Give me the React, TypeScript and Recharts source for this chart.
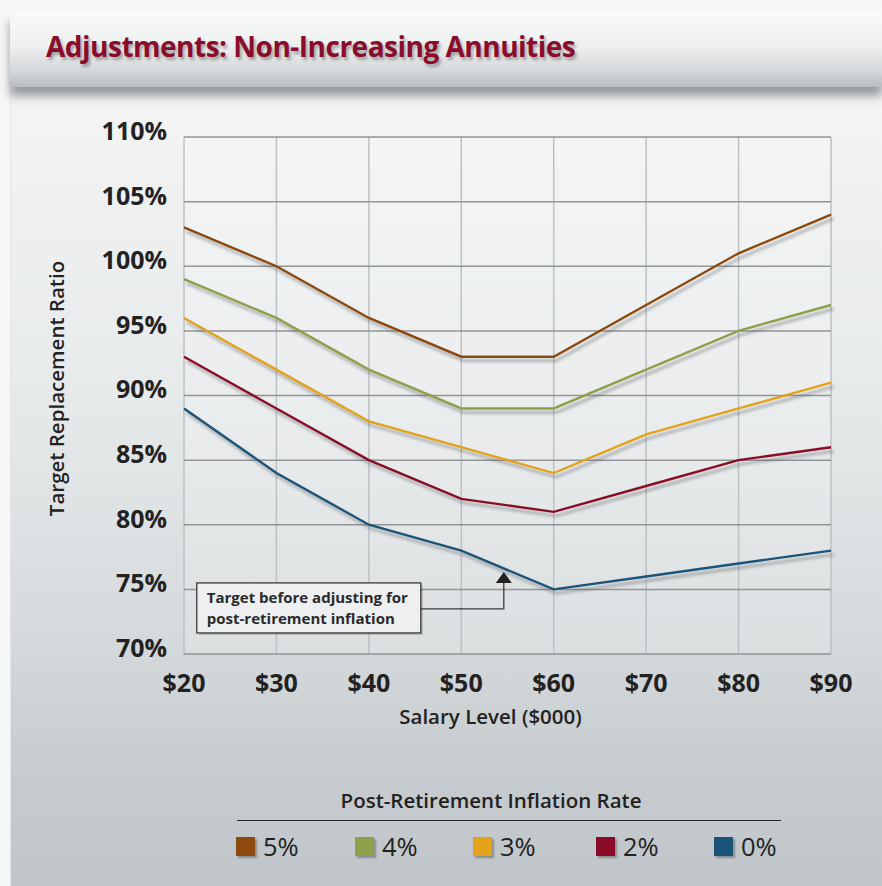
import React from 'react';
import { LineChart, Line, XAxis, YAxis, CartesianGrid, ReferenceDot, Label } from 'recharts';

// Salary levels ($000)
const salaries = [20, 30, 40, 50, 60, 70, 80, 90];

// Target replacement ratio (%) by post-retirement inflation rate
const rate5 = [103, 100, 96, 93, 93, 97, 101, 104];
const rate4 = [99, 96, 92, 89, 89, 92, 95, 97];
const rate3 = [96, 92, 88, 86, 84, 87, 89, 91];
const rate2 = [93, 89, 85, 82, 81, 83, 85, 86];
const rate0 = [89, 84, 80, 78, 75, 76, 77, 78];

const yTicks = [70, 75, 80, 85, 90, 95, 100, 105, 110];

const seriesKeys = ['r5', 'r4', 'r3', 'r2', 'r0'];
const seriesLabels = ['5%', '4%', '3%', '2%', '0%'];
const seriesColors = ['#8c4a0e', '#8fa04c', '#e2a21a', '#8a0b27', '#1b5479'];
const seriesValues = [rate5, rate4, rate3, rate2, rate0];

// Annotation arrow target (salary, ratio)
const noteX = 54.6;
const noteY = 76.35;
const noteLines = ['Target before adjusting for', 'post-retirement inflation'];

const data = salaries.map((s, i) => {
  const row: Record<string, number> = { salary: s };
  seriesKeys.forEach((k, j) => {
    row[k] = seriesValues[j][i];
  });
  return row;
});

const FONT = '"Open Sans", "Noto Sans", sans-serif';

const NoteShape = (props: any) => {
  const { cx, cy } = props;
  const boxRight = cx - 83;
  const boxLeft = cx - 307;
  return (
    <g>
      <rect x={boxLeft + 2} y={cy + 13} width={224} height={50} fill="rgba(0,0,0,0.18)" />
      <rect x={boxLeft} y={cy + 11} width={224} height={50} fill="#edeff0" stroke="#3a3a3a" strokeWidth={1.3} />
      <polyline
        points={`${boxRight},${cy + 37} ${cx},${cy + 37} ${cx},${cy + 10}`}
        fill="none"
        stroke="#3a3a3a"
        strokeWidth={1.3}
      />
      <polygon points={`${cx},${cy} ${cx - 8},${cy + 11} ${cx + 8},${cy + 11}`} fill="#222" />
      <text x={boxLeft + 10} y={cy + 31} fontFamily={FONT} fontWeight={700} fontSize={15} fill="#2a2a2a">
        {noteLines[0]}
      </text>
      <text x={boxLeft + 10} y={cy + 52} fontFamily={FONT} fontWeight={700} fontSize={15} fill="#2a2a2a">
        {noteLines[1]}
      </text>
    </g>
  );
};

export default function App() {
  return (
    <div
      style={{
        position: 'absolute',
        left: 0,
        top: 0,
        width: 882,
        height: 886,
        overflow: 'hidden',
        background: '#f6f7f7',
        fontFamily: FONT,
      }}
    >
      <svg width={0} height={0} style={{ position: 'absolute' }}>
        <defs>
          <filter id="lineShadow" x="-10%" y="-20%" width="130%" height="160%">
            <feDropShadow dx={2.5} dy={4} stdDeviation={1.8} floodColor="#4a4f52" floodOpacity={0.45} />
          </filter>
        </defs>
      </svg>

      {/* panel */}
      <div
        style={{
          position: 'absolute',
          left: 10,
          top: 30,
          width: 872,
          height: 856,
          borderLeft: '1px solid #e2e5e6',
          background: 'linear-gradient(to bottom, #f5f6f6 0%, #eff1f1 20%, #e6e9ea 45%, #d6dadc 70%, #c5cbce 88%, #bfc5c8 100%)',
        }}
      />

      {/* title banner */}
      <div
        style={{
          position: 'absolute',
          left: 10,
          top: 12,
          width: 872,
          height: 75,
          background: 'linear-gradient(to bottom, #f9fafa 0%, #eef0f0 45%, #d3d7d9 80%, #b7bcbf 100%)',
          boxShadow: '0 9px 9px rgba(40,45,48,0.45)',
        }}
      >
        <div
          style={{
            position: 'absolute',
            left: 36,
            top: 15,
            fontFamily: FONT,
            fontWeight: 700,
            fontSize: 28,
            letterSpacing: -0.5,
            color: '#8a0c2c',
            textShadow: '2px 3px 3px rgba(0,0,0,0.3)',
            whiteSpace: 'nowrap',
          }}
        >
          Adjustments: Non-Increasing Annuities
        </div>
      </div>

      <div style={{ position: 'absolute', left: 0, top: 0 }}>
        <LineChart
          width={882}
          height={886}
          data={data}
          margin={{ top: 137, right: 51, bottom: 172, left: 0 }}
        >
          <CartesianGrid horizontal={false} stroke="#bcc1c4" strokeWidth={1.5} fill="rgba(255,255,255,0.18)" />
          <CartesianGrid vertical={false} stroke="#8f9599" strokeWidth={1.5} />
          <XAxis
            dataKey="salary"
            type="number"
            domain={[20, 90]}
            ticks={salaries}
            tickFormatter={(v: number) => `$${v}`}
            axisLine={false}
            tickLine={false}
            tickSize={0}
            tickMargin={20}
            height={60}
            tick={{ fontFamily: FONT, fontWeight: 700, fontSize: 25, fill: '#222' }}
          >
            <Label
              content={({ viewBox }: any) => (
                <text
                  x={viewBox.x + viewBox.width / 2 - 17}
                  y={724}
                  textAnchor="middle"
                  fontFamily={FONT}
                  fontWeight={600}
                  fontSize={20.5}
                  fill="#222"
                >
                  Salary Level ($000)
                </text>
              )}
            />
          </XAxis>
          <YAxis
            type="number"
            domain={[70, 110]}
            ticks={yTicks}
            tickFormatter={(v: number) => `${v}%`}
            axisLine={false}
            tickLine={false}
            tickSize={0}
            tickMargin={17}
            width={184}
            tick={{ fontFamily: FONT, fontWeight: 700, fontSize: 25, fill: '#222', dy: -6 }}
          >
            <Label
              content={({ viewBox }: any) => (
                <text
                  transform={`translate(64, ${viewBox.y + viewBox.height / 2 - 7}) rotate(-90)`}
                  textAnchor="middle"
                  fontFamily={FONT}
                  fontWeight={600}
                  fontSize={20.5}
                  fill="#222"
                >
                  Target Replacement Ratio
                </text>
              )}
            />
          </YAxis>
          {seriesKeys.map((k, j) => (
            <Line
              key={k}
              dataKey={k}
              type="linear"
              stroke={seriesColors[j]}
              strokeWidth={2.4}
              dot={false}
              activeDot={false}
              isAnimationActive={false}
              style={{ filter: 'url(#lineShadow)' }}
            />
          ))}
          <ReferenceDot x={noteX} y={noteY} r={0} shape={NoteShape} ifOverflow="visible" />
        </LineChart>
      </div>

      {/* legend */}
      <div
        style={{
          position: 'absolute',
          left: 237,
          top: 786,
          width: 544,
          textAlign: 'center',
          fontFamily: FONT,
          fontWeight: 600,
          fontSize: 20.5,
          color: '#222',
          whiteSpace: 'nowrap',
        }}
      >
        <span style={{ position: 'relative', left: -18 }}>Post-Retirement Inflation Rate</span>
      </div>
      <div style={{ position: 'absolute', left: 237, top: 820, width: 544, height: 0, borderTop: '1.5px solid #2a2a2a' }} />
      {seriesLabels.map((lab, j) => {
        const lefts = [236, 355, 473, 596, 714];
        return (
          <div key={lab} style={{ position: 'absolute', left: lefts[j], top: 836, height: 20, display: 'flex', alignItems: 'center' }}>
            <div
              style={{
                width: 19,
                height: 19,
                background: seriesColors[j],
                boxShadow: '2px 2px 2px rgba(0,0,0,0.3)',
              }}
            />
            <span style={{ marginLeft: 8, fontFamily: FONT, fontSize: 25.5, color: '#222', lineHeight: '20px' }}>{lab}</span>
          </div>
        );
      })}
    </div>
  );
}
